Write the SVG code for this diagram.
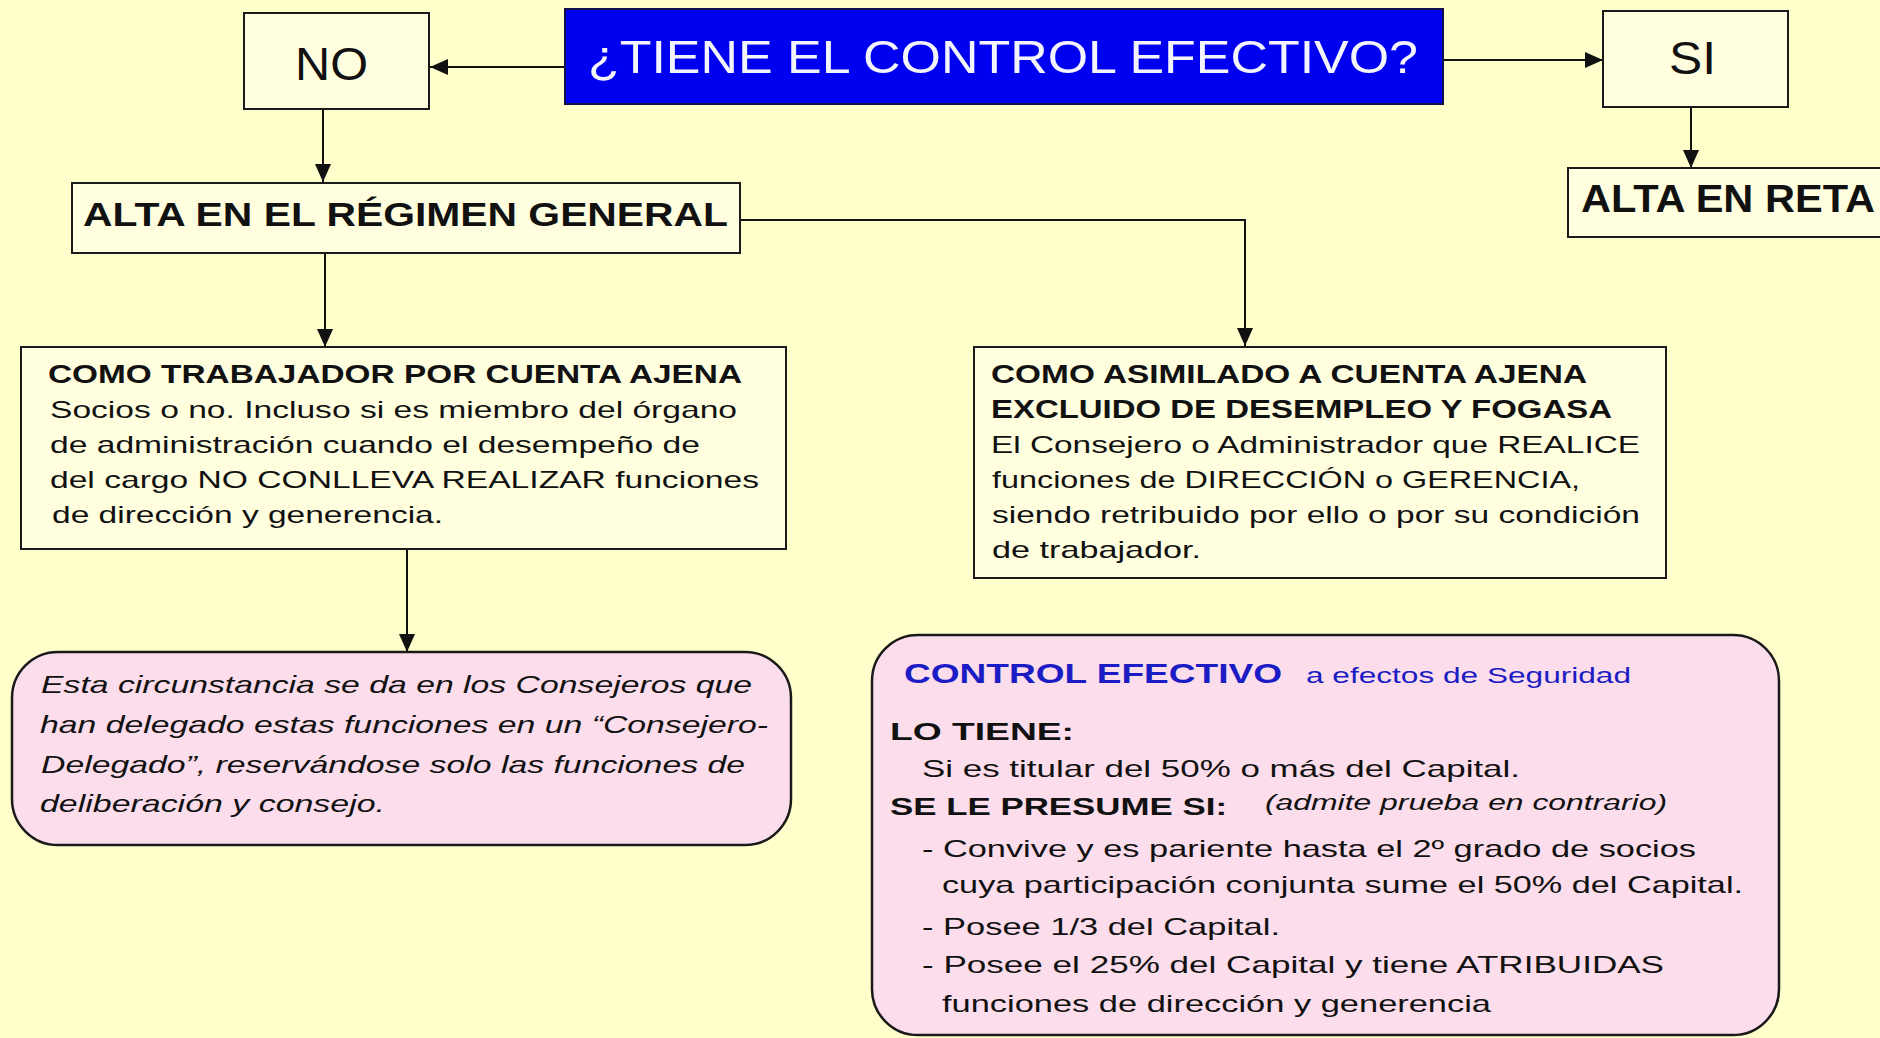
<svg xmlns="http://www.w3.org/2000/svg" width="1880" height="1038" viewBox="0 0 1880 1038">
<style>
.box{fill:#FFFFE0;stroke:#1a1a1a;stroke-width:2}
.pink{fill:#FBDDEB;stroke:#1a1a1a;stroke-width:2.5}
.con{fill:none;stroke:#111;stroke-width:2}
.t{font-family:"Liberation Sans",Arial,sans-serif;fill:#111}
.b{font-weight:bold}
.big{font-size:46px}
.hd{font-size:26px;font-weight:bold}
.bd{font-size:24px}
.it{font-style:italic;font-size:24px}
.blue{fill:#1c1cc4}
</style>
<defs>
<marker id="ah" viewBox="0 0 18 16" refX="18" refY="8" markerWidth="18" markerHeight="16" markerUnits="userSpaceOnUse" orient="auto">
<path d="M0,0 L18,8 L0,16 Z" fill="#111"/>
</marker>
</defs>
<rect width="1880" height="1038" fill="#FFFFCC"/>

<g id="connectors">
<line class="con" x1="565" y1="67" x2="430" y2="67" marker-end="url(#ah)"/>
<line class="con" x1="1443" y1="60" x2="1603" y2="60" marker-end="url(#ah)"/>
<line class="con" x1="323" y1="109" x2="323" y2="182" marker-end="url(#ah)"/>
<line class="con" x1="1691" y1="107" x2="1691" y2="168" marker-end="url(#ah)"/>
<polyline class="con" points="740,220 1245,220 1245,346" marker-end="url(#ah)"/>
<line class="con" x1="325" y1="253" x2="325" y2="347" marker-end="url(#ah)"/>
<line class="con" x1="407" y1="549" x2="407" y2="652" marker-end="url(#ah)"/>
</g>

<g id="question">
<rect x="565" y="9" width="878" height="95" fill="#0000F0" stroke="#10104a" stroke-width="2"/>
<text class="t big" x="588" y="73" fill="#F4F4FF" style="fill:#F4F4FF" textLength="830" lengthAdjust="spacingAndGlyphs">¿TIENE EL CONTROL EFECTIVO?</text>
</g>

<g id="no">
<rect class="box" x="244" y="13" width="185" height="96"/>
<text class="t big" x="295" y="80" font-size="45" textLength="73" lengthAdjust="spacingAndGlyphs">NO</text>
</g>

<g id="si">
<rect class="box" x="1603" y="11" width="185" height="96"/>
<text class="t big" x="1669" y="74" font-size="44" textLength="47" lengthAdjust="spacingAndGlyphs">SI</text>
</g>

<g id="alta-general">
<rect class="box" x="72" y="183" width="668" height="70"/>
<text class="t b" x="83" y="226" font-size="34" textLength="645" lengthAdjust="spacingAndGlyphs">ALTA EN EL RÉGIMEN GENERAL</text>
</g>

<g id="alta-reta">
<rect class="box" x="1568" y="168" width="330" height="69"/>
<text class="t b" x="1581" y="212" font-size="38" textLength="294" lengthAdjust="spacingAndGlyphs">ALTA EN RETA</text>
</g>

<g id="cuenta-ajena">
<rect class="box" x="21" y="347" width="765" height="202"/>
<text class="t hd" x="48" y="383" textLength="694" lengthAdjust="spacingAndGlyphs">COMO TRABAJADOR POR CUENTA AJENA</text>
<text class="t bd" x="50" y="418" textLength="687" lengthAdjust="spacingAndGlyphs">Socios o no. Incluso si es miembro del órgano</text>
<text class="t bd" x="50" y="453" textLength="650" lengthAdjust="spacingAndGlyphs">de administración cuando el desempeño de</text>
<text class="t bd" x="50" y="488" textLength="709" lengthAdjust="spacingAndGlyphs">del cargo NO CONLLEVA REALIZAR funciones</text>
<text class="t bd" x="52" y="523" textLength="391" lengthAdjust="spacingAndGlyphs">de dirección y generencia.</text>
</g>

<g id="asimilado">
<rect class="box" x="974" y="347" width="692" height="231"/>
<text class="t hd" x="991" y="383" textLength="596" lengthAdjust="spacingAndGlyphs">COMO ASIMILADO A CUENTA AJENA</text>
<text class="t hd" x="991" y="418" textLength="621" lengthAdjust="spacingAndGlyphs">EXCLUIDO DE DESEMPLEO Y FOGASA</text>
<text class="t bd" x="991" y="453" textLength="649" lengthAdjust="spacingAndGlyphs">El Consejero o Administrador que REALICE</text>
<text class="t bd" x="992" y="488" textLength="588" lengthAdjust="spacingAndGlyphs">funciones de DIRECCIÓN o GERENCIA,</text>
<text class="t bd" x="992" y="523" textLength="648" lengthAdjust="spacingAndGlyphs">siendo retribuido por ello o por su condición</text>
<text class="t bd" x="992" y="558" textLength="209" lengthAdjust="spacingAndGlyphs">de trabajador.</text>
</g>

<g id="consejeros">
<rect class="pink" x="12" y="652" width="779" height="193" rx="46" ry="46"/>
<text class="t it" x="41" y="693" textLength="711" lengthAdjust="spacingAndGlyphs">Esta circunstancia se da en los Consejeros que</text>
<text class="t it" x="40" y="733" textLength="728" lengthAdjust="spacingAndGlyphs">han delegado estas funciones en un “Consejero-</text>
<text class="t it" x="41" y="773" textLength="704" lengthAdjust="spacingAndGlyphs">Delegado”, reservándose solo las funciones de</text>
<text class="t it" x="40" y="812" textLength="345" lengthAdjust="spacingAndGlyphs">deliberación y consejo.</text>
</g>

<g id="control-efectivo">
<rect class="pink" x="872" y="635" width="907" height="400" rx="46" ry="46"/>
<text class="t b blue" x="904" y="683" font-size="28" textLength="378" lengthAdjust="spacingAndGlyphs">CONTROL EFECTIVO</text>
<text class="t blue" x="1306" y="683" font-size="22" textLength="325" lengthAdjust="spacingAndGlyphs">a efectos de Seguridad</text>
<text class="t b" x="890" y="740" font-size="24" textLength="184" lengthAdjust="spacingAndGlyphs">LO TIENE:</text>
<text class="t bd" x="922" y="777" textLength="598" lengthAdjust="spacingAndGlyphs">Si es titular del 50% o más del Capital.</text>
<text class="t b" x="890" y="815" font-size="24" textLength="337" lengthAdjust="spacingAndGlyphs">SE LE PRESUME SI:</text>
<text class="t" x="1265" y="810" font-size="22" font-style="italic" textLength="402" lengthAdjust="spacingAndGlyphs">(admite prueba en contrario)</text>
<text class="t bd" x="922" y="857" textLength="774" lengthAdjust="spacingAndGlyphs">- Convive y es pariente hasta el 2º grado de socios</text>
<text class="t bd" x="942" y="893" textLength="801" lengthAdjust="spacingAndGlyphs">cuya participación conjunta sume el 50% del Capital.</text>
<text class="t bd" x="922" y="935" textLength="358" lengthAdjust="spacingAndGlyphs">- Posee 1/3 del Capital.</text>
<text class="t bd" x="922" y="973" textLength="742" lengthAdjust="spacingAndGlyphs">- Posee el 25% del Capital y tiene ATRIBUIDAS</text>
<text class="t bd" x="942" y="1012" textLength="549" lengthAdjust="spacingAndGlyphs">funciones de dirección y generencia</text>
</g>
</svg>
